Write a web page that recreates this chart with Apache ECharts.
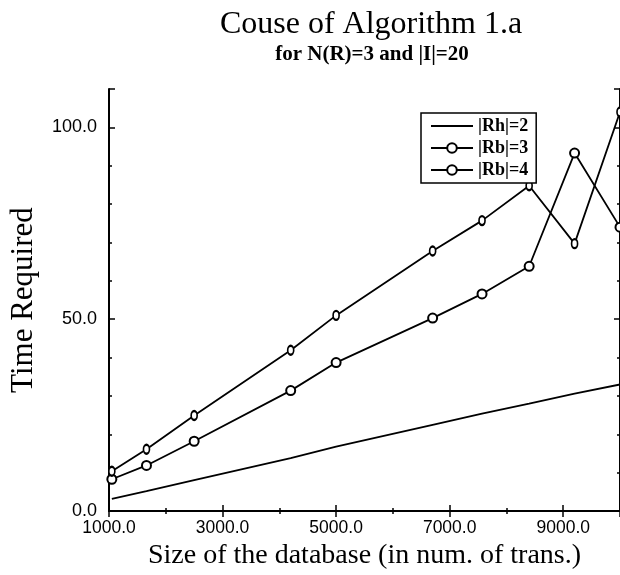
<!DOCTYPE html>
<html>
<head>
<meta charset="utf-8">
<script src="https://cdn.jsdelivr.net/npm/echarts@6/dist/echarts.min.js"></script>
<style>
  html, body { margin: 0; padding: 0; background: #fff; }
  #chart { width: 620px; height: 575px; }
</style>
</head>
<body>
<div id="chart"></div>
<script>
// sizes of the database (num. of trans.)
const sizes = [1050, 1660, 2500, 4200, 5000, 6700, 7570, 8400, 9200, 10000]
// time required per |Rb|
const rb2 = [3.2, 5.2, 8.1, 13.8, 16.8, 22.5, 25.4, 28.0, 30.6, 33.0]
const rb3 = [8.3, 11.9, 18.2, 31.4, 38.7, 50.3, 56.6, 63.8, 93.3, 74.0]
const rb4 = [10.4, 16.1, 24.9, 41.9, 51.0, 67.8, 75.7, 84.8, 69.7, 104.0]
const seriesNames = ['|Rh|=2', '|Rb|=3', '|Rb|=4']

const serif = 'Liberation Serif'
const sans = 'Liberation Sans'

function pairs(ys) {
  return sizes.map((x, i) => [x, ys[i]])
}

const chart = echarts.init(document.getElementById('chart'))

const axisBase = {
  axisLine: { show: true, lineStyle: { color: '#000', width: 2 } },
  axisTick: { show: true, inside: true, length: 6, lineStyle: { color: '#000', width: 1.5 } },
  minorTick: { show: true, splitNumber: 2, length: 3, lineStyle: { color: '#000', width: 1.5 } },
  splitLine: { show: false }
}

const option = {
  animation: false,
  backgroundColor: '#fff',
  title: [{
    text: 'Couse of Algorithm 1.a',
    left: 366,
    top: 4,
    textAlign: 'center',
    textStyle: { fontFamily: serif, fontSize: 32, fontWeight: 'normal', color: '#000' }
  }, {
    text: 'for N(R)=3 and |I|=20',
    left: 367,
    top: 39,
    textAlign: 'center',
    textStyle: { fontFamily: serif, fontSize: 21, fontWeight: 'bold', color: '#000' }
  }],
  legend: {
    orient: 'vertical',
    left: 421,
    top: 113,
    padding: [4, 8, 4, 9],
    itemWidth: 42,
    itemHeight: 12,
    itemGap: 4,
    borderColor: '#000',
    borderWidth: 1.5,
    backgroundColor: '#fff',
    textStyle: { fontFamily: serif, fontSize: 18, fontWeight: 'bold', color: '#000' },
    data: [
      // plain line, no marker in the key
      { name: seriesNames[0], itemStyle: { opacity: 0 } },
      seriesNames[1],
      seriesNames[2]
    ]
  },
  grid: { left: 107, top: 89, right: -5, bottom: 55 },
  xAxis: [{
    ...axisBase,
    type: 'value',
    min: 1000,
    max: 10000,
    interval: 2000,
    name: 'Size of the database (in num. of trans.)',
    nameLocation: 'middle',
    nameGap: 24,
    nameTextStyle: { fontFamily: serif, fontSize: 28, color: '#000' },
    axisLabel: {
      margin: 8,
      showMaxLabel: false,
      fontFamily: sans,
      fontSize: 17.5,
      color: '#000',
      formatter: v => v.toFixed(1)
    }
  }, {
    ...axisBase,
    type: 'value',
    position: 'top',
    min: 1000,
    max: 10000,
    interval: 2000,
    axisLabel: { show: false }
  }],
  yAxis: [{
    ...axisBase,
    type: 'value',
    min: 0,
    max: 110,
    interval: 50,
    minorTick: { ...axisBase.minorTick, splitNumber: 5 },
    name: 'Time Required',
    nameLocation: 'middle',
    nameGap: 70,
    nameTextStyle: { fontFamily: serif, fontSize: 31, color: '#000' },
    axisLabel: {
      margin: 12,
      showMaxLabel: false,
      fontFamily: sans,
      fontSize: 18,
      color: '#000',
      formatter: v => v.toFixed(1)
    }
  }, {
    ...axisBase,
    type: 'value',
    position: 'right',
    min: 0,
    max: 110,
    interval: 50,
    minorTick: { ...axisBase.minorTick, splitNumber: 5 },
    axisLabel: { show: false }
  }],
  series: [{
    name: seriesNames[0],
    type: 'line',
    symbol: 'none',
    data: pairs(rb2),
    lineStyle: { color: '#000', width: 1.8 },
    itemStyle: { color: '#000' }
  }, {
    name: seriesNames[1],
    type: 'line',
    symbol: 'emptyCircle',
    symbolSize: 9,
    data: pairs(rb3),
    lineStyle: { color: '#000', width: 1.8 },
    itemStyle: { color: '#000', borderWidth: 1.5 }
  }, {
    name: seriesNames[2],
    type: 'line',
    symbol: 'emptyCircle',
    symbolSize: [6, 9],
    data: pairs(rb4),
    lineStyle: { color: '#000', width: 1.8 },
    itemStyle: { color: '#000', borderWidth: 1.5 }
  }]
}

chart.setOption(option)
</script>
</body>
</html>
